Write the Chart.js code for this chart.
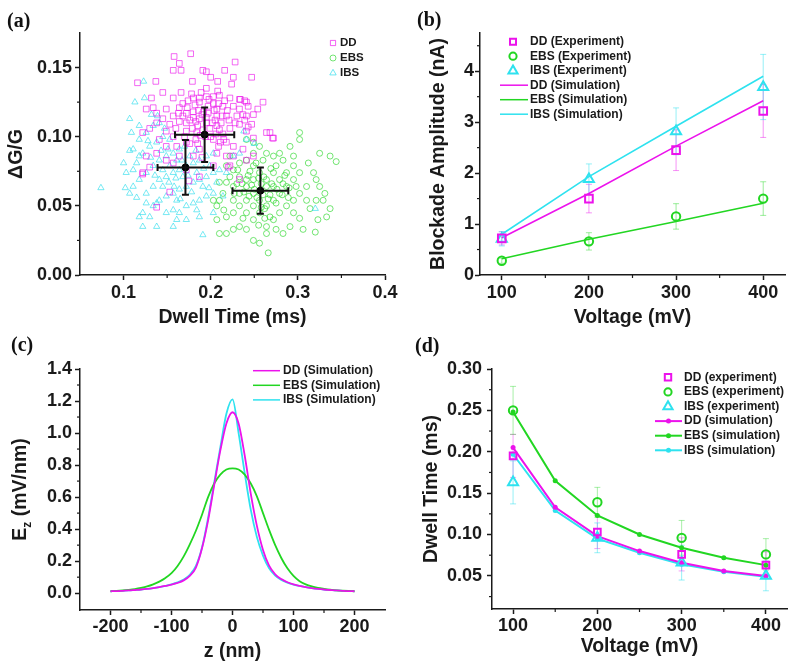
<!DOCTYPE html>
<html>
<head>
<meta charset="utf-8">
<script src="https://cdn.jsdelivr.net/npm/chart.js@4/dist/chart.umd.min.js"></script>
<style>
  body { margin: 0; background: #fff; }
  #page { position: relative; width: 800px; height: 668px; overflow: hidden; }
  .panel { position: absolute; width: 400px; height: 334px; }
  .tag { position: absolute; font: bold 20px "Liberation Serif", "Times New Roman", serif; color: #111; line-height: 20px; }
</style>
</head>
<body>
<div id="page">
  <div class="panel" style="left:0;top:0"><canvas id="chartA" width="400" height="334"></canvas></div>
  <div class="panel" style="left:400px;top:0"><canvas id="chartB" width="400" height="334"></canvas></div>
  <div class="panel" style="left:0;top:334px"><canvas id="chartC" width="400" height="334"></canvas></div>
  <div class="panel" style="left:400px;top:334px"><canvas id="chartD" width="400" height="334"></canvas></div>
  <div class="tag" style="left:7px;top:10px">(a)</div>
  <div class="tag" style="left:417px;top:9px">(b)</div>
  <div class="tag" style="left:11px;top:334px">(c)</div>
  <div class="tag" style="left:415px;top:335px">(d)</div>
</div>
<script>
// ---- (a) dwell time vs blockade, single events ----
const ddPts = [
  [0.177,0.160],[0.158,0.158],[0.164,0.153],[0.157,0.148],[0.166,0.148],[0.179,0.140],[0.191,0.148],[0.195,0.147],
  [0.200,0.143],[0.208,0.140],[0.216,0.148],[0.226,0.143],[0.247,0.143],[0.228,0.154],[0.224,0.138],
  [0.116,0.139],[0.137,0.140],[0.145,0.132],[0.132,0.128],[0.157,0.128],[0.166,0.132],[0.174,0.126],[0.180,0.128],
  [0.187,0.128],[0.195,0.129],[0.203,0.129],[0.210,0.130],[0.222,0.128],[0.233,0.127],[0.241,0.125],[0.260,0.125],
  [0.239,0.126],[0.254,0.120],[0.234,0.127],[0.134,0.121],[0.126,0.120],[0.138,0.117],[0.149,0.120],[0.157,0.115],
  [0.164,0.121],[0.172,0.117],[0.187,0.125],[0.189,0.132],[0.197,0.122],[0.207,0.120],[0.214,0.122],[0.226,0.122],
  [0.233,0.120],[0.243,0.122],[0.249,0.116],[0.241,0.115],[0.230,0.115],[0.218,0.115],[0.207,0.115],[0.195,0.114],
  [0.187,0.113],[0.180,0.114],[0.172,0.110],[0.164,0.111],[0.153,0.109],[0.145,0.113],[0.138,0.110],[0.130,0.106],
  [0.122,0.103],[0.149,0.104],[0.157,0.100],[0.172,0.104],[0.184,0.103],[0.207,0.108],[0.222,0.106],[0.233,0.109],
  [0.241,0.104],[0.249,0.099],[0.264,0.103],[0.272,0.099],[0.237,0.116],[0.239,0.112],[0.247,0.109],[0.243,0.107],
  [0.268,0.103],[0.271,0.099],[0.141,0.098],[0.149,0.093],[0.161,0.093],[0.172,0.096],[0.203,0.098],[0.218,0.096],
  [0.226,0.093],[0.237,0.091],[0.249,0.086],[0.241,0.083],[0.226,0.086],[0.218,0.086],[0.207,0.088],[0.187,0.091],
  [0.180,0.086],[0.164,0.086],[0.157,0.081],[0.149,0.083],[0.138,0.088],[0.122,0.074],[0.172,0.076],[0.187,0.071],
  [0.203,0.079],[0.222,0.079],[0.233,0.069],[0.126,0.086],[0.122,0.073],[0.138,0.049],[0.153,0.060],[0.130,0.078],
  [0.220,0.078],[0.175,0.068],[0.190,0.085],[0.210,0.105],[0.180,0.118],[0.195,0.110],[0.200,0.100],[0.205,0.112],
  [0.185,0.095],[0.170,0.100],[0.160,0.106],[0.215,0.098],[0.178,0.131],[0.168,0.124],[0.192,0.118],[0.199,0.106],
  [0.185,0.108],[0.176,0.112],[0.212,0.110],[0.203,0.124],[0.219,0.119],[0.188,0.101],[0.182,0.123],[0.195,0.135],
  [0.208,0.133],[0.228,0.110],[0.214,0.102],[0.176,0.095],[0.168,0.115],
  [0.190,0.116],[0.197,0.117],[0.204,0.119],[0.209,0.124],[0.183,0.111],[0.191,0.105],[0.206,0.102],[0.213,0.115],
  [0.198,0.127],[0.186,0.119],[0.179,0.106],[0.202,0.110],[0.194,0.100],[0.211,0.096],[0.173,0.121],[0.216,0.126],
  [0.163,0.117],[0.183,0.098],[0.221,0.112],[0.209,0.093]
]
const ebsPts = [
  [0.266,0.016],[0.256,0.023],[0.264,0.030],[0.249,0.025],[0.241,0.033],[0.233,0.035],[0.226,0.033],[0.218,0.030],
  [0.210,0.030],[0.306,0.033],[0.320,0.031],[0.323,0.040],[0.302,0.041],[0.295,0.045],[0.287,0.050],[0.314,0.048],
  [0.337,0.048],[0.329,0.054],[0.331,0.059],[0.325,0.064],[0.321,0.069],[0.318,0.074],[0.312,0.081],[0.337,0.086],
  [0.344,0.082],[0.325,0.088],[0.302,0.103],[0.302,0.098],[0.291,0.093],[0.295,0.086],[0.283,0.083],[0.275,0.079],
  [0.272,0.074],[0.264,0.069],[0.256,0.074],[0.249,0.079],[0.241,0.083],[0.233,0.081],[0.226,0.076],[0.222,0.071],
  [0.218,0.067],[0.214,0.059],[0.210,0.054],[0.207,0.050],[0.210,0.067],[0.226,0.064],[0.233,0.059],[0.241,0.054],
  [0.249,0.050],[0.256,0.045],[0.264,0.050],[0.272,0.054],[0.279,0.059],[0.287,0.064],[0.295,0.069],[0.302,0.074],
  [0.310,0.064],[0.302,0.059],[0.295,0.054],[0.279,0.045],[0.272,0.040],[0.264,0.035],[0.249,0.040],[0.241,0.045],
  [0.233,0.050],[0.226,0.045],[0.218,0.042],[0.226,0.054],[0.241,0.064],[0.249,0.069],[0.264,0.064],[0.272,0.064],
  [0.279,0.069],[0.287,0.074],[0.295,0.079],[0.272,0.086],[0.264,0.088],[0.256,0.093],[0.249,0.096],[0.241,0.098],
  [0.249,0.088],[0.260,0.083],[0.279,0.088],[0.222,0.086],[0.218,0.079],[0.321,0.054],[0.310,0.054],[0.333,0.042],
  [0.291,0.035],[0.283,0.030],[0.275,0.033],[0.268,0.042],[0.256,0.054],[0.249,0.059],[0.233,0.071],[0.241,0.069],
  [0.207,0.040],[0.203,0.054],[0.250,0.062],[0.260,0.058],[0.270,0.066],[0.255,0.070],[0.245,0.075],[0.262,0.048],
  [0.275,0.052],[0.230,0.066],[0.285,0.072],[0.290,0.063],[0.258,0.066],[0.268,0.058],[0.238,0.060],[0.282,0.058],
  [0.253,0.056],[0.261,0.071],[0.244,0.057],[0.236,0.066],[0.266,0.055],[0.276,0.062],[0.247,0.065],[0.258,0.049],
  [0.243,0.072],[0.269,0.077],[0.283,0.066],[0.231,0.076],[0.252,0.081],[0.262,0.041],[0.237,0.041],[0.289,0.056],
  [0.298,0.064],[0.227,0.059],[0.215,0.047],[0.255,0.036]
]
const ibsPts = [
  [0.074,0.063],[0.100,0.081],[0.102,0.063],[0.107,0.090],[0.111,0.076],[0.115,0.056],[0.118,0.042],[0.122,0.035],
  [0.113,0.125],[0.123,0.140],[0.124,0.128],[0.109,0.103],[0.111,0.091],[0.118,0.098],[0.126,0.103],[0.134,0.108],
  [0.141,0.110],[0.122,0.088],[0.130,0.093],[0.138,0.096],[0.145,0.100],[0.153,0.098],[0.111,0.064],[0.118,0.069],
  [0.126,0.074],[0.134,0.079],[0.141,0.083],[0.149,0.086],[0.157,0.088],[0.164,0.091],[0.126,0.059],[0.134,0.064],
  [0.141,0.069],[0.149,0.071],[0.157,0.074],[0.164,0.076],[0.172,0.079],[0.180,0.081],[0.187,0.083],[0.195,0.086],
  [0.203,0.088],[0.134,0.050],[0.141,0.054],[0.149,0.057],[0.157,0.059],[0.164,0.062],[0.172,0.064],[0.180,0.067],
  [0.187,0.069],[0.195,0.071],[0.203,0.074],[0.210,0.076],[0.157,0.047],[0.164,0.045],[0.172,0.050],[0.180,0.052],
  [0.187,0.054],[0.195,0.057],[0.203,0.059],[0.138,0.035],[0.157,0.035],[0.172,0.040],[0.187,0.042],[0.203,0.045],
  [0.191,0.029],[0.122,0.045],[0.130,0.042],[0.138,0.052],[0.145,0.064],[0.153,0.079],[0.161,0.083],[0.168,0.071],
  [0.176,0.086],[0.184,0.074],[0.191,0.064],[0.199,0.079],[0.207,0.067],[0.214,0.057],[0.218,0.074],[0.226,0.086],
  [0.233,0.088],[0.241,0.098],[0.118,0.086],[0.115,0.081],[0.103,0.074],[0.107,0.059],[0.126,0.052],[0.149,0.045],
  [0.161,0.054],[0.132,0.116],[0.139,0.115],[0.107,0.113],[0.118,0.108],[0.320,0.048],[0.250,0.095],[0.238,0.104],
  [0.145,0.076],[0.152,0.067],[0.160,0.070],[0.167,0.083],[0.174,0.072],[0.178,0.060],[0.136,0.072],[0.143,0.090],
  [0.151,0.091],[0.158,0.064],[0.165,0.055],[0.183,0.090],[0.170,0.093],[0.131,0.085],[0.128,0.097],[0.147,0.106],
  [0.192,0.077],[0.198,0.063],[0.184,0.047],[0.161,0.040]
]
// mean values with standard deviations
const meanX = [0.193, 0.257, 0.171]
const meanY = [0.1015, 0.061, 0.0778]
const meanErrX = [0.034, 0.032, 0.032]
const meanErrY = [0.0197, 0.0167, 0.0198]

// ---- (b) blockade amplitude vs voltage ----
const voltB = [100, 200, 300, 400]
const ddExpB = [0.72, 1.50, 2.45, 3.22]
const ebsExpB = [0.28, 0.66, 1.15, 1.50]
const ibsExpB = [0.71, 1.88, 2.82, 3.69]
const ddErrB = [0.13, 0.28, 0.40, 0.52]
const ebsErrB = [0.05, 0.17, 0.25, 0.33]
const ibsErrB = [0.14, 0.30, 0.46, 0.64]
const ddSimB = [0.73, 1.60, 2.53, 3.42]
const ebsSimB = [0.32, 0.70, 1.05, 1.41]
const ibsSimB = [0.80, 1.93, 2.92, 3.90]

// ---- (c) axial field along the pore ----
const zC = [-200,-190,-180,-170,-160,-150,-140,-130,-120,-110,-100,-90,-80,-70,-60,-50,-40,-30,-20,-10,0,
  10,20,30,40,50,60,70,80,90,100,110,120,130,140,150,160,170,180,190,200]
const ddC = [0.012,0.013,0.015,0.017,0.020,0.023,0.027,0.032,0.038,0.045,0.053,0.064,0.080,0.108,0.160,0.280,0.455,0.675,0.890,1.060,1.130,
  1.060,0.860,0.620,0.420,0.270,0.172,0.118,0.088,0.068,0.055,0.046,0.038,0.032,0.027,0.023,0.020,0.017,0.015,0.013,0.012]
const ebsC = [0.012,0.014,0.017,0.021,0.026,0.033,0.042,0.055,0.072,0.095,0.125,0.170,0.230,0.305,0.390,0.490,0.600,0.685,0.740,0.772,0.780,
  0.772,0.740,0.685,0.605,0.500,0.395,0.300,0.220,0.155,0.108,0.075,0.055,0.042,0.033,0.027,0.022,0.018,0.016,0.014,0.012]
const ibsC = [0.012,0.013,0.015,0.017,0.020,0.023,0.027,0.032,0.038,0.046,0.055,0.067,0.085,0.115,0.170,0.285,0.470,0.690,0.910,1.120,1.210,
  1.000,0.750,0.520,0.350,0.235,0.155,0.110,0.083,0.066,0.054,0.045,0.038,0.032,0.027,0.023,0.020,0.017,0.015,0.013,0.012]

// ---- (d) dwell time vs voltage ----
const voltD = [100, 200, 300, 400]
const voltSimD = [100, 150, 200, 250, 300, 350, 400]
const ddExpD = [0.195, 0.103, 0.076, 0.063]
const ebsExpD = [0.250, 0.139, 0.096, 0.076]
const ibsExpD = [0.163, 0.096, 0.066, 0.050]
const ddErrD = [0.026, 0.020, 0.020, 0.016]
const ebsErrD = [0.029, 0.018, 0.021, 0.019]
const ibsErrD = [0.026, 0.018, 0.021, 0.018]
const ddSimD = [0.205, 0.133, 0.098, 0.080, 0.066, 0.056, 0.050]
const ebsSimD = [0.248, 0.165, 0.123, 0.100, 0.084, 0.072, 0.063]
const ibsSimD = [0.197, 0.129, 0.095, 0.078, 0.064, 0.055, 0.049]

const FONT = '"Liberation Sans", Arial, Helvetica, sans-serif'
const INK = '#1a1a1a'
const MAG = '#ec12ec'
const GRN = '#22d622'
const CYN = '#2ee2ef'

function xy(xs, ys) {
	return xs.map((x, i) => ({ x, y: ys[i] }))
}

function pairs(list) {
	return list.map(([x, y]) => ({ x, y }))
}

function axis(o) {
	return {
		type: "linear",
		min: o.min,
		max: o.max,
		border: { color: INK, width: 1.5 },
		grid: { drawOnChartArea: false, tickLength: 5, tickWidth: 1.5, tickColor: INK },
		ticks: {
			autoSkip: false,
			maxRotation: 0,
			padding: o.pad,
			color: INK,
			font: { family: FONT, size: 18, weight: "bold" },
			callback: (v) => (o.fmt !== undefined ? Number(v).toFixed(o.fmt) : String(v)),
		},
		title: {
			display: !!o.title,
			text: o.title || "",
			color: INK,
			font: { family: FONT, size: 19.5, weight: "bold" },
			padding: o.titlePad || 0,
		},
		afterBuildTicks: (s) => {
			s.ticks = o.ticks.map((value) => ({ value }))
		},
		afterFit: (s) => {
			if (o.w) s.width = o.w
			if (o.h) s.height = o.h
		},
	}
}

// short unlabelled ticks between the major ones
const minorTicks = {
	id: "minorTicks",
	afterDraw(chart, args, opts) {
		const ctx = chart.ctx
		ctx.save()
		ctx.strokeStyle = INK
		ctx.lineWidth = 1.2
		for (const id of ["x", "y"]) {
			const step = opts[id]
			if (!step) continue
			const s = chart.scales[id]
			const majors = s.ticks.map((t) => t.value)
			for (let k = Math.ceil(s.min / step); k * step <= s.max + 1e-9; k++) {
				const v = k * step
				if (majors.some((m) => Math.abs(m - v) < step / 100)) continue
				const p = s.getPixelForValue(v)
				ctx.beginPath()
				if (id === "x") {
					if (Math.abs(p - s.left) < 2 || Math.abs(p - s.right) < 2) continue
					ctx.moveTo(p, s.top)
					ctx.lineTo(p, s.top + 3)
				} else {
					if (Math.abs(p - s.top) < 2 || Math.abs(p - s.bottom) < 2) continue
					ctx.moveTo(s.right - 3, p)
					ctx.lineTo(s.right, p)
				}
				ctx.stroke()
			}
		}
		ctx.restore()
	},
}

function drawErrors(chart, onTop) {
	const { ctx } = chart
	const x = chart.scales.x
	const y = chart.scales.y
	chart.data.datasets.forEach((ds) => {
		if (!ds.errY && !ds.errX) return
		if (!!ds.errOnTop !== onTop) return
		ctx.save()
		ctx.strokeStyle = ds.errColor
		ctx.lineWidth = ds.errWidth || 1
		const cap = ds.errCap || 3
		ds.data.forEach((p, i) => {
			const px = x.getPixelForValue(p.x)
			const py = y.getPixelForValue(p.y)
			ctx.beginPath()
			if (ds.errY) {
				const t = y.getPixelForValue(p.y + ds.errY[i])
				const b = y.getPixelForValue(p.y - ds.errY[i])
				ctx.moveTo(px, t); ctx.lineTo(px, b)
				ctx.moveTo(px - cap, t); ctx.lineTo(px + cap, t)
				ctx.moveTo(px - cap, b); ctx.lineTo(px + cap, b)
			}
			if (ds.errX) {
				const l = x.getPixelForValue(p.x - ds.errX[i])
				const r = x.getPixelForValue(p.x + ds.errX[i])
				ctx.moveTo(l, py); ctx.lineTo(r, py)
				ctx.moveTo(l, py - cap); ctx.lineTo(l, py + cap)
				ctx.moveTo(r, py - cap); ctx.lineTo(r, py + cap)
			}
			ctx.stroke()
		})
		ctx.restore()
	})
}

const errorBars = {
	id: "errorBars",
	beforeDatasetsDraw(chart) { drawErrors(chart, false) },
	afterDatasetsDraw(chart) { drawErrors(chart, true) },
}

function marker(ctx, kind, x, y, r) {
	ctx.beginPath()
	if (kind === "rect") {
		ctx.rect(x - r, y - r, 2 * r, 2 * r)
	} else if (kind === "circle") {
		ctx.arc(x, y, r, 0, Math.PI * 2)
	} else if (kind === "triangle") {
		ctx.moveTo(x, y - r * 1.15)
		ctx.lineTo(x + r, y + r * 0.6)
		ctx.lineTo(x - r, y + r * 0.6)
		ctx.closePath()
	}
	ctx.stroke()
}

// legend drawn inside the plot, the way the original figure places it
const boxLegend = {
	id: "boxLegend",
	afterDraw(chart, args, o) {
		if (!o.items) return
		const ctx = chart.ctx
		ctx.save()
		ctx.textBaseline = "middle"
		o.items.forEach((it, i) => {
			const y = o.y + i * o.gap
			ctx.strokeStyle = it.color
			ctx.fillStyle = it.color
			ctx.lineWidth = it.lw || 1.5
			if (it.kind === "line" || it.kind === "linedot") {
				ctx.beginPath()
				ctx.moveTo(o.lineFrom, y)
				ctx.lineTo(o.lineTo, y)
				ctx.stroke()
				if (it.kind === "linedot") {
					ctx.beginPath()
					ctx.arc((o.lineFrom + o.lineTo) / 2, y, 2.5, 0, Math.PI * 2)
					ctx.fill()
				}
			} else {
				marker(ctx, it.kind, o.markX, y, it.r)
			}
			ctx.fillStyle = INK
			ctx.font = `bold ${o.size || 11.5}px ${FONT}`
			ctx.fillText(it.label, o.textX, y)
		})
		ctx.restore()
	},
}

// y title with a subscript (E_z)
const axisSub = {
	id: "axisSub",
	afterDraw(chart, args, o) {
		if (!o.main) return
		const ctx = chart.ctx
		const ca = chart.chartArea
		const big = `bold 19.5px ${FONT}`
		const small = `bold 12px ${FONT}`
		ctx.save()
		ctx.translate(o.x, (ca.top + ca.bottom) / 2)
		ctx.rotate(-Math.PI / 2)
		ctx.fillStyle = INK
		ctx.textBaseline = "middle"
		ctx.font = big
		const w1 = ctx.measureText(o.main).width
		const w3 = ctx.measureText(o.rest).width
		ctx.font = small
		const w2 = ctx.measureText(o.sub).width
		const s = -(w1 + w2 + w3) / 2
		ctx.font = big
		ctx.fillText(o.main, s, 0)
		ctx.font = small
		ctx.fillText(o.sub, s + w1, 7)
		ctx.font = big
		ctx.fillText(o.rest, s + w1 + w2, 0)
		ctx.restore()
	},
}

function makeChart(id, datasets, scales, padding, plugins) {
	return new Chart(document.getElementById(id), {
		type: "scatter",
		data: { datasets },
		options: {
			responsive: false,
			animation: false,
			devicePixelRatio: 1,
			layout: { padding },
			scales,
			plugins: Object.assign({ legend: { display: false }, tooltip: { enabled: false } }, plugins),
		},
		plugins: [minorTicks, errorBars, boxLegend, axisSub],
	})
}

function expSet(xs, ys, errs, color, style, r, errColor) {
	return {
		data: xy(xs, ys),
		pointStyle: style,
		pointRadius: r,
		pointBorderWidth: 2,
		pointBorderColor: color,
		pointBackgroundColor: "rgba(0,0,0,0)",
		showLine: false,
		errY: errs,
		errColor,
		errCap: 3,
	}
}

// (a)
makeChart(
	"chartA",
	[
		{
			data: xy(meanX, meanY),
			pointStyle: "circle",
			pointRadius: 3.5,
			pointBackgroundColor: "#000",
			pointBorderColor: "#000",
			errX: meanErrX,
			errY: meanErrY,
			errColor: "#111",
			errWidth: 2,
			errCap: 3.5,
			errOnTop: true,
		},
		{ data: pairs(ddPts), pointStyle: "rect", pointRadius: 4, pointBorderWidth: 0.9, pointBorderColor: "rgba(236,18,236,0.7)", pointBackgroundColor: "rgba(0,0,0,0)" },
		{ data: pairs(ibsPts), pointStyle: "triangle", pointRadius: 3.6, pointBorderWidth: 0.9, pointBorderColor: "rgba(40,220,236,0.7)", pointBackgroundColor: "rgba(0,0,0,0)" },
		{ data: pairs(ebsPts), pointStyle: "circle", pointRadius: 3, pointBorderWidth: 0.9, pointBorderColor: "rgba(34,214,34,0.7)", pointBackgroundColor: "rgba(0,0,0,0)" },
	],
	{
		x: axis({ min: 0.05, max: 0.4, ticks: [0.1, 0.2, 0.3, 0.4], fmt: 1, pad: 2, h: 59, title: "Dwell Time (ms)", titlePad: { top: 0, bottom: 4.6 } }),
		y: axis({ min: 0, max: 0.175, ticks: [0, 0.05, 0.1, 0.15], fmt: 2, pad: 3, w: 80, title: "\u0394G/G", titlePad: { top: 5.3, bottom: 0 } }),
	},
	{ top: 33, right: 15, left: 0, bottom: 0 },
	{
		minorTicks: { x: 0.05, y: 0.025 },
		boxLegend: {
			markX: 333, textX: 340, y: 43, gap: 15, size: 11.5,
			items: [
				{ label: "DD", kind: "rect", color: "rgba(236,18,236,0.75)", r: 2.6, lw: 0.9 },
				{ label: "EBS", kind: "circle", color: "rgba(34,214,34,0.7)", r: 3, lw: 0.9 },
				{ label: "IBS", kind: "triangle", color: "rgba(40,220,236,0.75)", r: 3.2, lw: 0.9 },
			],
		},
	}
)

// (b)
makeChart(
	"chartB",
	[
		expSet(voltB, ddExpB, ddErrB, MAG, "rect", 5.4, "rgba(236,18,236,0.45)"),
		expSet(voltB, ebsExpB, ebsErrB, GRN, "circle", 4.2, "rgba(34,214,34,0.45)"),
		expSet(voltB, ibsExpB, ibsErrB, CYN, "triangle", 5.8, "rgba(46,226,239,0.5)"),
		{ data: xy(voltB, ddSimB), showLine: true, pointRadius: 0, borderColor: MAG, borderWidth: 1.6 },
		{ data: xy(voltB, ebsSimB), showLine: true, pointRadius: 0, borderColor: GRN, borderWidth: 1.6 },
		{ data: xy(voltB, ibsSimB), showLine: true, pointRadius: 0, borderColor: CYN, borderWidth: 1.6 },
	],
	{
		x: axis({ min: 75, max: 425, ticks: [100, 200, 300, 400], pad: 2, h: 59, title: "Voltage (mV)", titlePad: { top: 0, bottom: 4.6 } }),
		y: axis({ min: 0, max: 4.75, ticks: [0, 1, 2, 3, 4], pad: 1, w: 80, title: "Blockade Amplitude (nA)", titlePad: { top: 27, bottom: 0 } }),
	},
	{ top: 33, right: 15, left: 0, bottom: 0 },
	{
		minorTicks: { x: 50, y: 0.5 },
		boxLegend: {
			markX: 113, textX: 130, lineFrom: 100, lineTo: 128, y: 41.7, gap: 14.5, size: 12,
			items: [
				{ label: "DD (Experiment)", kind: "rect", color: MAG, r: 3, lw: 2 },
				{ label: "EBS (Experiment)", kind: "circle", color: GRN, r: 3.6, lw: 2 },
				{ label: "IBS (Experiment)", kind: "triangle", color: CYN, r: 4.6, lw: 2 },
				{ label: "DD (Simulation)", kind: "line", color: MAG },
				{ label: "EBS (Simulation)", kind: "line", color: GRN },
				{ label: "IBS (Simulation)", kind: "line", color: CYN },
			],
		},
	}
)

// (c)
makeChart(
	"chartC",
	[
		{ data: xy(zC, ddC), showLine: true, pointRadius: 0, borderColor: MAG, borderWidth: 1.8, cubicInterpolationMode: "monotone" },
		{ data: xy(zC, ebsC), showLine: true, pointRadius: 0, borderColor: GRN, borderWidth: 1.8, cubicInterpolationMode: "monotone" },
		{ data: xy(zC, ibsC), showLine: true, pointRadius: 0, borderColor: CYN, borderWidth: 1.8, cubicInterpolationMode: "monotone" },
	],
	{
		x: axis({ min: -250, max: 250, ticks: [-200, -100, 0, 100, 200], pad: 1, h: 58, title: "z (nm)", titlePad: { top: 0, bottom: 4.9 } }),
		y: axis({ min: -0.105, max: 1.4, ticks: [0, 0.2, 0.4, 0.6, 0.8, 1.0, 1.2, 1.4], fmt: 1, pad: 3, w: 80 }),
	},
	{ top: 35, right: 15, left: 0, bottom: 0 },
	{
		minorTicks: { x: 50, y: 0.1 },
		axisSub: { x: 21, main: "E", sub: "z", rest: " (mV/nm)" },
		boxLegend: {
			textX: 283, lineFrom: 253, lineTo: 280, y: 36.7, gap: 14.6, size: 12,
			items: [
				{ label: "DD (Simulation)", kind: "line", color: MAG },
				{ label: "EBS (Simulation)", kind: "line", color: GRN },
				{ label: "IBS (Simulation)", kind: "line", color: CYN },
			],
		},
	}
)

// (d)
makeChart(
	"chartD",
	[
		expSet(voltD, ddExpD, ddErrD, MAG, "rect", 4.7, "rgba(236,18,236,0.4)"),
		expSet(voltD, ebsExpD, ebsErrD, GRN, "circle", 4.2, "rgba(34,214,34,0.4)"),
		expSet(voltD, ibsExpD, ibsErrD, CYN, "triangle", 5.8, "rgba(46,226,239,0.5)"),
		{ data: xy(voltSimD, ddSimD), showLine: true, pointRadius: 2.5, pointBorderWidth: 0, pointBackgroundColor: MAG, borderColor: MAG, borderWidth: 2 },
		{ data: xy(voltSimD, ebsSimD), showLine: true, pointRadius: 2.5, pointBorderWidth: 0, pointBackgroundColor: GRN, borderColor: GRN, borderWidth: 2 },
		{ data: xy(voltSimD, ibsSimD), showLine: true, pointRadius: 2.5, pointBorderWidth: 0, pointBackgroundColor: CYN, borderColor: CYN, borderWidth: 2 },
	],
	{
		x: axis({ min: 75, max: 425, ticks: [100, 200, 300, 400], pad: 1, h: 59, title: "Voltage (mV)", titlePad: { top: 0, bottom: 9.6 } }),
		y: axis({ min: 0.01, max: 0.3, ticks: [0.05, 0.1, 0.15, 0.2, 0.25, 0.3], fmt: 2, pad: 5, w: 92, title: "Dwell Time (ms)", titlePad: { top: 20, bottom: 0 } }),
	},
	{ top: 35, right: 13, left: 0, bottom: 0 },
	{
		minorTicks: { x: 50, y: 0.025 },
		boxLegend: {
			markX: 268, textX: 284, lineFrom: 255, lineTo: 282, y: 43.3, gap: 14.6, size: 12,
			items: [
				{ label: "DD (experiment)", kind: "rect", color: MAG, r: 3.2, lw: 2 },
				{ label: "EBS (experiment)", kind: "circle", color: GRN, r: 3.6, lw: 2 },
				{ label: "IBS (experiment)", kind: "triangle", color: CYN, r: 4.6, lw: 2 },
				{ label: "DD (simulation)", kind: "linedot", color: MAG, lw: 2 },
				{ label: "EBS (simulation)", kind: "linedot", color: GRN, lw: 2 },
				{ label: "IBS (simulation)", kind: "linedot", color: CYN, lw: 2 },
			],
		},
	}
)
</script>
</body>
</html>
